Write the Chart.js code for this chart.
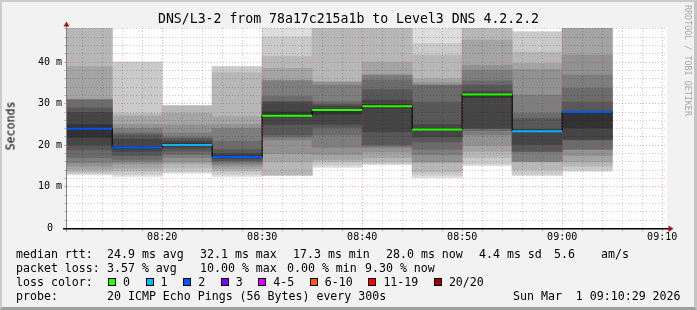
<!DOCTYPE html>
<html>
<head>
<meta charset="utf-8">
<script src="https://cdn.jsdelivr.net/npm/chart.js@4.4.1/dist/chart.umd.min.js"></script>
<style>
  body { margin: 0; background: #fff; }
  #wrap { position: relative; width: 697px; height: 310px; background: #f2f2f2; overflow: hidden;
          font-family: "DejaVu Sans Mono", monospace; color: #000; }
  #wrap canvas { position: absolute; left: 0; top: 0; }
  #title { position: absolute; left: 0; width: 697px; top: 11px; text-align: center; font-size: 13.2px; line-height: 16px; white-space: pre; }
  #ylab { position: absolute; left: 11px; top: 126px; font-size: 11.6px; line-height: 13px;
          transform: translate(-50%, -50%) rotate(-90deg); white-space: pre; }
  #brand { position: absolute; left: 693px; top: 5px; font-size: 8.4px; line-height: 10px; color: #a8a8a8;
           transform-origin: 0 0; transform: rotate(90deg); white-space: pre; }
  .t { position: absolute; font-size: 11.6px; line-height: 14px; white-space: pre; }
  #lossrow { position: absolute; left: 108px; top: 275px; display: flex; align-items: center; font-size: 11.6px; line-height: 14px; }
  #lossrow .sw { width: 8px; height: 8px; border: 1px solid #000; box-sizing: border-box; margin-right: 7px; }
  #lossrow .lb { margin-right: 15.6px; white-space: pre; }
  #frame { position: absolute; left: 0; top: 0; width: 697px; height: 310px; box-sizing: border-box;
           border-top: 2px solid #cbcbcb; border-left: 2px solid #cbcbcb;
           border-right: 3px solid #c4c4c4; border-bottom: 3px solid #9f9f9f; pointer-events: none; }
</style>
</head>
<body>
<div id="wrap">
  <canvas id="c" width="697" height="310"></canvas>
  <div id="title"></div>
  <div id="ylab">Seconds</div>
  <div id="brand">RRDTOOL / TOBI OETIKER</div>
  <div id="legend"></div>
  <div id="frame"></div>
</div>
<script>
// ---- data ----
const titleText = 'DNS/L3-2 from 78a17c215a1b to Level3 DNS 4.2.2.2';
const timeStart = '08:10:29';
const timeEnd = '09:10:29';
const binEnds = ['08:15', '08:20', '08:25', '08:30', '08:35', '08:40', '08:45', '08:50', '08:55', '09:00', '09:05'];
const binMinutes = 5;
const medians = [24.0, 19.5, 20.1, 17.2, 27.1, 28.5, 29.4, 23.8, 32.2, 23.4, 28.0];
const lossCounts = [2, 2, 1, 2, 0, 0, 0, 0, 0, 1, 2];

// 20 sorted ping times (ms) per bin, values above the top are clipped
const pings = [
  [12.9, 13.2, 13.6, 14.2, 15.0, 15.8, 17.0, 18.9, 20.0, 21.9, 25.0, 27.9, 29.0, 30.9, 31.0, 31.1, 38.9, 50, 55, 60],
  [12.5, 13.0, 13.8, 14.5, 15.5, 16.0, 16.5, 17.5, 18.5, 19.2, 19.6, 21.5, 22.5, 23.0, 24.0, 25.0, 27.0, 27.7, 40.0, 40.0],
  [13.3, 13.6, 14.5, 15.5, 16.0, 17.0, 17.8, 18.6, 19.4, 20.0, 20.4, 21.0, 21.6, 22.0, 23.0, 24.9, 27.7, 29.5, 29.5, 29.5],
  [12.5, 13.0, 13.8, 14.3, 15.0, 15.5, 16.0, 16.3, 16.7, 17.1, 17.5, 18.0, 19.0, 21.0, 24.0, 25.0, 26.9, 37.5, 38.9, 38.9],
  [12.7, 12.8, 12.9, 16.0, 18.0, 21.3, 22.0, 22.5, 25.0, 27.1, 28.0, 30.4, 30.5, 31.7, 35.5, 35.7, 38.5, 41.3, 46.1, 50],
  [14.7, 15.2, 16.0, 16.5, 17.8, 19.5, 22.5, 24.3, 25.0, 27.5, 28.6, 29.5, 30.0, 30.5, 34.5, 35.2, 35.3, 50, 55, 60],
  [15.3, 15.6, 16.0, 17.0, 18.4, 19.5, 19.8, 20.1, 23.2, 29.0, 29.8, 30.9, 33.4, 35.7, 36.9, 36.95, 40.0, 50, 55, 60],
  [12.2, 12.8, 13.6, 15.9, 16.0, 17.7, 19.0, 20.8, 22.0, 23.8, 24.0, 25.0, 30.4, 34.4, 34.5, 35.0, 36.0, 41.7, 44.5, 55],
  [15.1, 15.5, 17.0, 18.5, 20.0, 22.5, 23.5, 24.0, 24.2, 31.5, 32.3, 33.0, 34.5, 35.5, 38.0, 39.2, 45.3, 55, 60, 65],
  [12.7, 13.0, 14.1, 16.0, 16.1, 16.2, 18.4, 18.5, 20.1, 23.3, 23.7, 23.8, 26.4, 27.6, 32.1, 38.2, 39.7, 42.4, 47.3, 47.3],
  [13.7, 14.0, 15.0, 16.0, 17.5, 19.0, 19.1, 21.3, 21.4, 24.2, 28.1, 28.2, 30.4, 33.7, 36.9, 41.7, 50, 55, 60, 65],
];

const yMax = 48.2;
const yTicks = [0, 2, 4, 6, 8, 10, 12, 14, 16, 18, 20, 22, 24, 26, 28, 30, 32, 34, 36, 38, 40, 42, 44, 46, 48];

const lossLabels = ['0', '1', '2', '3', '4-5', '6-10', '11-19', '20/20'];
const lossFrom = [0, 1, 2, 3, 4, 6, 11, 20];
const lossColors = ['#26ff00', '#00b8ff', '#0059ff', '#7e00ff', '#dd00ff', '#ff5a00', '#ff0000', '#a10000'];

const rttStats = ['24.9 ms avg', '32.1 ms max', '17.3 ms min', '28.0 ms now', '4.4 ms sd', '5.6', 'am/s'];
const lossStats = ['3.57 % avg', '10.00 % max', '0.00 % min', '9.30 % now'];
const probeText = '20 ICMP Echo Pings (56 Bytes) every 300s';
const stampText = 'Sun Mar  1 09:10:29 2026';

// ---- helpers ----
const toMin = t => { const p = t.split(':').map(Number); return (p[0] - 8) * 60 + p[1] + (p[2] || 0) / 60; };
const fmt = m => { const h = 8 + Math.floor(m / 60), mm = m % 60; return String(h).padStart(2, '0') + ':' + String(mm).padStart(2, '0'); };
const lossColor = n => { let c = lossColors[0]; lossFrom.forEach((f, i) => { if (n >= f) c = lossColors[i]; }); return c; };

const xMin = toMin(timeStart), xMax = toMin(timeEnd);
const xTicks = [];
for (let m = Math.ceil(xMin / 2) * 2; m <= xMax; m += 2) xTicks.push(m);
const binEnd = binEnds.map(toMin);
const binMid = binEnd.map(e => e - binMinutes / 2);

// smoke: band ii spans ping[ii] .. ping[21-ii], darker towards the median
const datasets = [];
for (let ii = 1; ii <= 10; ii++) {
  const g = Math.round(190 / 10 * (10 - ii)) + 50;
  datasets.push({
    type: 'bar',
    data: pings.map((p, b) => ({ x: binMid[b], y: [p[ii - 1], p[20 - ii]] })),
    backgroundColor: `rgb(${g},${g},${g})`,
    borderWidth: 0,
    barPercentage: 1,
    categoryPercentage: 1,
    grouped: false,
    order: 30 - ii,
  });
}

// black step line joining the medians
const steps = medians.map((v, b) => ({ x: binEnd[b] - binMinutes, y: v }));
steps.push({ x: binEnd[binEnd.length - 1], y: medians[medians.length - 1] });
datasets.push({ type: 'line', data: steps, stepped: true, borderColor: '#000', borderWidth: 1, pointRadius: 0, order: 2 });

// coloured median per bin (loss colour)
const medSegs = [];
medians.forEach((v, b) => {
  medSegs.push({ x: binEnd[b] - binMinutes, y: v }, { x: binEnd[b], y: v }, { x: binEnd[b], y: null });
});
datasets.push({
  type: 'line', data: medSegs, borderWidth: 2, pointRadius: 0, spanGaps: false, borderCapStyle: 'butt',
  borderColor: '#000',
  segment: { borderColor: c => lossColor(lossCounts[Math.floor(c.p0DataIndex / 3)]) },
  order: 1,
});

const gridCol = c => {
  const v = c.tick ? c.tick.value : 1;
  if (Math.abs(v) < 1e-9) return 'rgba(0,0,0,0)';
  return Math.abs(v % 10) < 1e-9 ? 'rgba(210,60,60,0.42)' : 'rgba(0,0,0,0.2)';
};
const tickFont = { family: 'DejaVu Sans Mono', size: 10 };

const decor = {
  id: 'decor',
  beforeDraw(c) {
    const { ctx, chartArea: a } = c;
    ctx.save();
    ctx.fillStyle = '#fff';
    ctx.fillRect(a.left, a.top, a.right - a.left, a.bottom - a.top);
    ctx.restore();
  },
  afterDraw(c) {
    const { ctx, chartArea: a } = c;
    ctx.save();
    ctx.fillStyle = '#808080';
    ctx.fillRect(a.left - 1, a.top - 3, 1, a.bottom - a.top + 6);
    ctx.fillStyle = '#000';
    ctx.fillRect(a.left - 4, a.bottom - 0.5, a.right - a.left + 6, 1.5);
    ctx.fillStyle = '#a01818';
    ctx.beginPath();
    ctx.moveTo(a.left - 0.5, a.top - 6.5); ctx.lineTo(a.left - 3.5, a.top - 1.5); ctx.lineTo(a.left + 2.5, a.top - 1.5);
    ctx.closePath(); ctx.fill();
    ctx.beginPath();
    ctx.moveTo(a.right + 6.5, a.bottom + 0.2); ctx.lineTo(a.right + 1.5, a.bottom - 3); ctx.lineTo(a.right + 1.5, a.bottom + 3.4);
    ctx.closePath(); ctx.fill();
    ctx.restore();
  },
};

const chart = new Chart(document.getElementById('c'), {
  type: 'bar',
  data: { datasets },
  plugins: [decor],
  options: {
    responsive: false,
    animation: false,
    events: [],
    layout: { padding: { left: 0, top: 28, right: 30, bottom: 0 } },
    plugins: { legend: { display: false }, tooltip: { enabled: false } },
    scales: {
      x: {
        type: 'linear', min: xMin, max: xMax, offset: false,
        afterBuildTicks: s => { s.ticks = xTicks.map(v => ({ value: v })); },
        afterFit: s => { s.height = 81.5; },
        grid: { offset: false, color: gridCol, tickColor: gridCol, tickLength: 3, z: 1 },
        border: { display: false, dash: [1, 2] },
        ticks: {
          autoSkip: false, maxRotation: 0, minRotation: 0, padding: 0, color: '#000', font: tickFont,
          callback: v => (Math.abs(v % 10) < 1e-9 ? fmt(v) : ''),
        },
      },
      y: {
        type: 'linear', min: 0, max: yMax,
        afterBuildTicks: s => { s.ticks = yTicks.map(v => ({ value: v })); },
        afterFit: s => { s.width = 67; },
        grid: { color: gridCol, tickColor: gridCol, tickLength: 3, z: 1 },
        border: { display: false, dash: [1, 2] },
        ticks: {
          autoSkip: false, crossAlign: 'center', padding: 2, color: '#000', font: tickFont,
          callback: v => (v % 10 === 0 ? (v === 0 ? '0' : v + ' m') : ''),
        },
      },
    },
  },
});

// bars span a whole bin: width taken from the x scale
const xs = chart.scales.x;
const binPx = xs.getPixelForValue(binEnd[1]) - xs.getPixelForValue(binEnd[0]);
chart.data.datasets.forEach(d => { if (d.type === 'bar') d.barThickness = binPx; });
chart.update();

// ---- text block under the graph ----
document.getElementById('title').textContent = titleText;
const legend = document.getElementById('legend');
const put = (txt, x, cy) => {
  const d = document.createElement('div');
  d.className = 't';
  d.textContent = txt;
  d.style.left = x + 'px';
  d.style.top = (cy - 7) + 'px';
  legend.appendChild(d);
  return d;
};
put('median rtt:', 16, 254);
[107, 200, 293, 386, 479, 554, 601].forEach((x, i) => put(rttStats[i], x, 254));
put('packet loss:', 16, 268.3);
[107, 200, 287, 365].forEach((x, i) => put(lossStats[i], x, 268.3));
put('loss color:', 16, 282.3);
const row = document.createElement('div');
row.id = 'lossrow';
lossLabels.forEach((l, i) => {
  const sw = document.createElement('div');
  sw.className = 'sw';
  sw.style.background = lossColors[i];
  const lb = document.createElement('div');
  lb.className = 'lb';
  lb.textContent = l;
  row.appendChild(sw);
  row.appendChild(lb);
});
legend.appendChild(row);
put('probe:', 16, 296);
put(probeText, 107, 296);
put(stampText, 513, 296);
</script>
</body>
</html>
